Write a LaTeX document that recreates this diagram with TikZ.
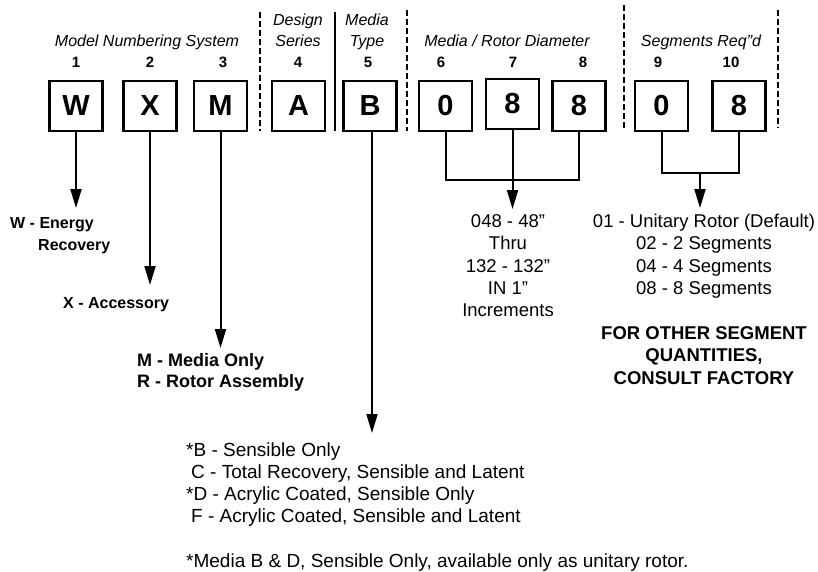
\documentclass[tikz,border=0pt]{standalone}
\usepackage{fontspec}
\setmainfont{Liberation Sans}
\usetikzlibrary{arrows.meta}
\begin{document}
\begin{tikzpicture}[x=1pt,y=-1pt,
  digitbox/.style={draw, line width=2.2pt, minimum width=53pt, minimum height=50pt, inner sep=0pt, font=\fontsize{29}{30}\selectfont\bfseries},
  arr/.style={line width=2pt, -{Triangle[length=19pt,width=11pt]}},
  link/.style={line width=2pt},
  divd/.style={line width=2pt, dash pattern=on 6pt off 3pt},
  divs/.style={line width=2pt},
  hdr/.style={inner sep=0pt, anchor=base, font=\fontsize{16}{19}\selectfont\itshape},
  num/.style={inner sep=0pt, anchor=base, font=\fontsize{15}{17}\selectfont\bfseries},
  bl/.style={inner sep=0pt, anchor=base west, font=\fontsize{16}{19}\selectfont\bfseries},
  blm/.style={inner sep=0pt, anchor=base west, font=\fontsize{18}{21}\selectfont\bfseries},
  txt/.style={inner sep=0pt, anchor=base, font=\fontsize{18.5}{22}\selectfont},
  txtl/.style={inner sep=0pt, anchor=base west, font=\fontsize{19}{22}\selectfont},
  btx/.style={inner sep=0pt, anchor=base, font=\fontsize{18.5}{22}\selectfont\bfseries},
]
\useasboundingbox (0,0) rectangle (818,571);

% header labels
\node[hdr] (hmns) at (147,46) {Model Numbering System};
\node[hdr] (hds1) at (298,25) {Design};
\node[hdr] (hds2) at (298,46) {Series};
\node[hdr] (hmt1) at (367,25) {Media};
\node[hdr] (hmt2) at (367,46) {Type};
\node[hdr] (hmrd) at (507,46) {Media / Rotor Diameter};
\node[hdr] (hseg) at (701,46) {Segments Req”d};

% position numbers
\node[num] (n1) at (76,67) {1};
\node[num] (n2) at (150,67) {2};
\node[num] (n3) at (223,67) {3};
\node[num] (n4) at (298,67) {4};
\node[num] (n5) at (368,67) {5};
\node[num] (n6) at (441,67) {6};
\node[num] (n7) at (513,67) {7};
\node[num] (n8) at (583,67) {8};
\node[num] (n9) at (658,67) {9};
\node[num] (n10) at (731,67) {10};

% dividers
\coordinate (d1t) at (260,12); \coordinate (d1b) at (260,131);
\coordinate (d2t) at (335,12); \coordinate (d2b) at (335,131);
\coordinate (d3t) at (407,10); \coordinate (d3b) at (407,131);
\coordinate (d4t) at (624,5);  \coordinate (d4b) at (624,128);
\coordinate (d5t) at (778,10); \coordinate (d5b) at (778,128);
\draw[divd] (d1t) -- (d1b);
\draw[divs] (d2t) -- (d2b);
\draw[divd] (d3t) -- (d3b);
\draw[divd] (d4t) -- (d4b);
\draw[divd] (d5t) -- (d5b);

% boxes
\node[digitbox] (bW) at (76,106) {W};
\node[digitbox] (bX) at (150,106) {X};
\node[digitbox] (bM) at (220.5,106) {M};
\node[digitbox] (bA) at (298.5,106) {A};
\node[digitbox] (bB) at (370,106) {B};
\node[digitbox] (b6) at (445.5,106) {0};
\node[digitbox] (b7) at (512.5,104) {8};
\node[digitbox] (b8) at (579,106) {8};
\node[digitbox] (b9) at (661.5,106) {0};
\node[digitbox] (b10) at (739,106) {8};

% left labels
\node[bl] (lw1) at (10,228) {W - Energy};
\node[bl] (lw2) at (38,250) {Recovery};
\node[bl] (lx) at (63,308) {X - Accessory};
\node[blm] (lm1) at (137,366) {M - Media Only};
\node[blm] (lm2) at (137,387) {R - Rotor Assembly};

% arrow tips
\coordinate (tW) at (76,208);
\coordinate (tX) at (150,285);
\coordinate (tM) at (220.5,348);
\coordinate (tB) at (372,433);
\draw[arr] (bW.south) -- (tW);
\draw[arr] (bX.south) -- (tX);
\draw[arr] (bM.south) -- (tM);
\draw[arr] (bB.south -| tB) -- (tB);

% diameter bracket
\coordinate (j1) at (512.5,180);
\coordinate (t1) at (512.5,209);
\draw[link] (b6.south) -- (b6.south |- j1) -- (b8.south |- j1) -- (b8.south);
\draw[link] (b7.south) -- (j1);
\draw[arr] (j1) -- (t1);

% segment bracket
\coordinate (j2) at (700,173);
\coordinate (t2) at (700,208);
\draw[link] (b9.south) -- (b9.south |- j2) -- (b10.south |- j2) -- (b10.south);
\draw[arr] (j2) -- (t2);

% diameter text
\node[txt] (r1) at (508,227) {048 - 48”};
\node[txt] (r2) at (508,249) {Thru};
\node[txt] (r3) at (508,272) {132 - 132”};
\node[txt] (r4) at (508,294) {IN 1”};
\node[txt] (r5) at (508,316) {Increments};

% segment text
\node[txt] (s1) at (704,227) {01 - Unitary Rotor (Default)};
\node[txt] (s2) at (704,249) {02 - 2 Segments};
\node[txt] (s3) at (704,272) {04 - 4 Segments};
\node[txt] (s4) at (704,294) {08 - 8 Segments};
\node[btx] (f1) at (704,339) {FOR OTHER SEGMENT};
\node[btx] (f2) at (704,361) {QUANTITIES,};
\node[btx] (f3) at (704,384) {CONSULT FACTORY};

% media type text
\node[txtl] (m1) at (186,456) {*B - Sensible Only};
\node[txtl] (m2) at (186,478) {\hspace*{5pt}C - Total Recovery, Sensible and Latent};
\node[txtl] (m3) at (186,500) {*D - Acrylic Coated, Sensible Only};
\node[txtl] (m4) at (186,522) {\hspace*{5pt}F - Acrylic Coated, Sensible and Latent};
\node[txtl] (fn) at (186,567) {*Media B \& D, Sensible Only, available only as unitary rotor.};
\end{tikzpicture}
\end{document}
